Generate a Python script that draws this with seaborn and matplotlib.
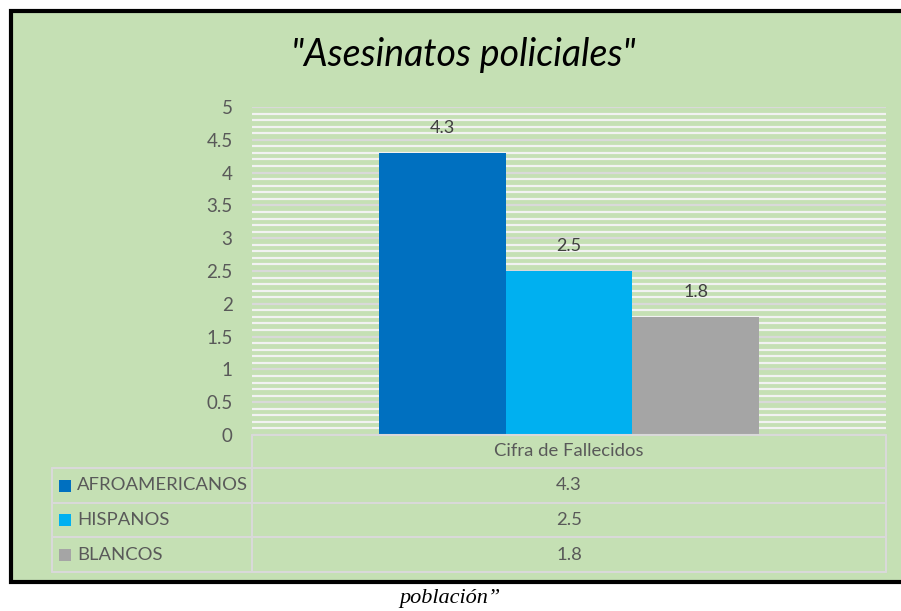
import matplotlib
matplotlib.use("Agg")
import matplotlib.pyplot as plt
from matplotlib.patches import Rectangle
from matplotlib.lines import Line2D
from matplotlib.ticker import MultipleLocator
import pandas as pd
import seaborn as sns

# data
categoria = "Cifra de Fallecidos"
grupos = ["AFROAMERICANOS", "HISPANOS", "BLANCOS"]
valores = [4.3, 2.5, 1.8]
colores = ["#0070C0", "#00B0F0", "#A5A5A5"]
titulo = '"Asesinatos policiales"'
pie = "población\u201d"

W, H = 901, 611
GREEN = "#C5E0B4"
TXT = "#595959"
GRID = "#D9D9D9"


def fx(x):
    return x / W


def fy(y):
    return 1 - y / H


sns.set_style("white")
plt.rcParams["font.family"] = ["Lato", "DejaVu Sans"]

fig = plt.figure(figsize=(W / 100, H / 100), dpi=100)
fig.patch.set_facecolor("white")

# outer green frame with black border (drawn below the axes)
fig.patches.append(Rectangle((fx(11), fy(582)), fx(905) - fx(11), fy(11) - fy(582),
                             transform=fig.transFigure, facecolor=GREEN,
                             edgecolor="black", linewidth=3, zorder=-5))

ax = fig.add_axes([fx(252), fy(435), fx(886) - fx(252), fy(107) - fy(435)])
ax.patch.set_alpha(0)

df = pd.DataFrame({"cat": [categoria] * len(grupos), "grupo": grupos, "valor": valores})
sns.barplot(data=df, x="cat", y="valor", hue="grupo", palette=colores,
            width=0.6, saturation=1, legend=False, linewidth=0, ax=ax)

for cont in ax.containers:
    ax.bar_label(cont, labels=[f"{v:.1f}" for v in cont.datavalues],
                 padding=12, color="#404040", fontsize=13)

ax.set_ylim(0, 5)
ax.set_xlim(-0.5, 0.5)
ax.yaxis.set_minor_locator(MultipleLocator(0.1))
ax.set_yticks([0, 0.5, 1, 1.5, 2, 2.5, 3, 3.5, 4, 4.5, 5],
              ["0", "0.5", "1", "1.5", "2", "2.5", "3", "3.5", "4", "4.5", "5"])
ax.grid(axis="y", which="major", color=GRID, linewidth=1.6)
ax.grid(axis="y", which="minor", color="#F2F2F2", linewidth=1.6)
ax.set_axisbelow(True)
ax.tick_params(axis="y", which="both", length=0, pad=14, labelsize=13.5, labelcolor=TXT)
ax.tick_params(axis="x", length=0, labelbottom=False)
ax.set_xlabel("")
ax.set_ylabel("")
for s in ax.spines.values():
    s.set_visible(False)

# title
fig.text(fx(463), fy(55), titulo, ha="center", va="center", fontsize=27,
         style="italic", color="black")

# data table
rows_y = [435, 468, 503, 537, 572]
lines = [
    ((252, 886), (435, 435)),
    ((52, 886), (468, 468)),
    ((52, 886), (503, 503)),
    ((52, 886), (537, 537)),
    ((52, 886), (572, 572)),
    ((52, 52), (468, 572)),
    ((252, 252), (435, 572)),
    ((886, 886), (435, 572)),
]
for (x0, x1), (y0, y1) in lines:
    fig.add_artist(Line2D([fx(x0), fx(x1)], [fy(y0), fy(y1)], transform=fig.transFigure,
                          color=GRID, linewidth=1.5))

fig.text(fx(569), fy((435 + 468) / 2), categoria, ha="center", va="center",
         fontsize=13.3, color=TXT)
for i, (g, v, c) in enumerate(zip(grupos, valores, colores)):
    yc = (rows_y[i + 1] + rows_y[i + 2]) / 2
    fig.patches.append(Rectangle((fx(59), fy(yc + 6)), fx(12), fy(0) - fy(12),
                                 transform=fig.transFigure, facecolor=c, edgecolor="none"))
    fig.text(fx(77), fy(yc), g, ha="left", va="center", fontsize=13.3, color=TXT)
    fig.text(fx(569), fy(yc), f"{v:.1f}", ha="center", va="center", fontsize=13.3, color=TXT)

# caption below the frame
fig.text(fx(450), fy(599), pie, ha="center", va="center", fontsize=16,
         style="italic", family=["Liberation Serif", "DejaVu Serif"], color="black")

fig.savefig("out.png", dpi=100)
